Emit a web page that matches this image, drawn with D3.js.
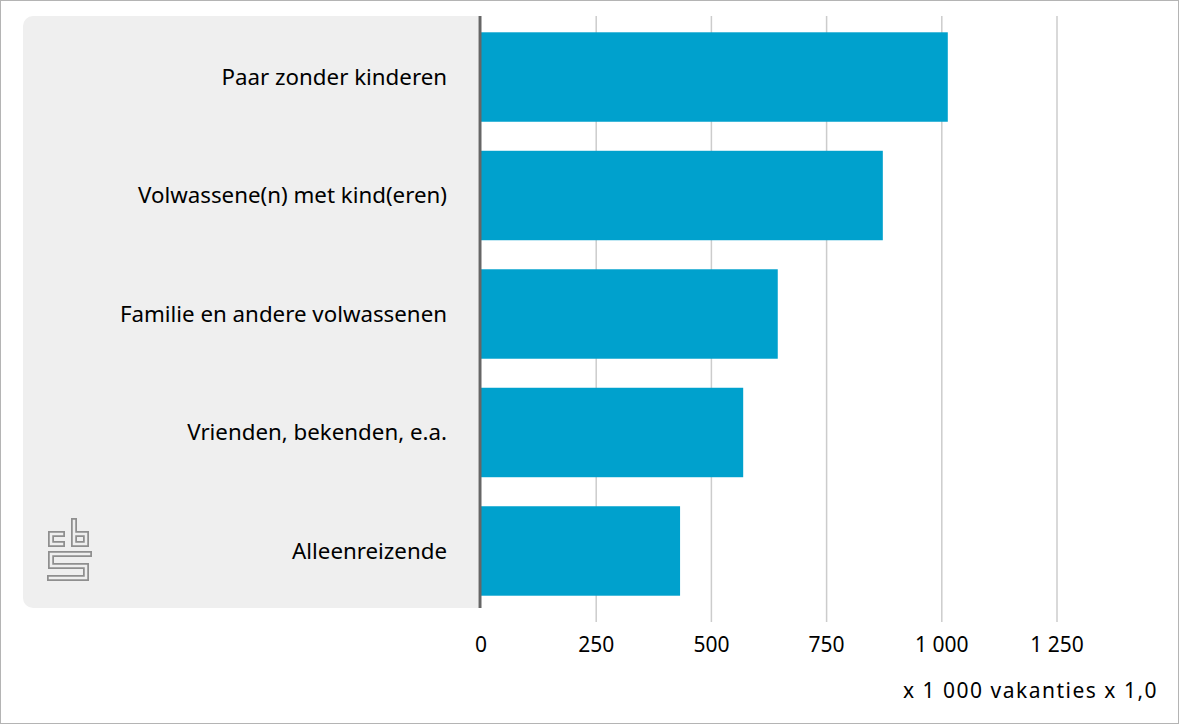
<!DOCTYPE html>
<html><head><meta charset="utf-8">
<script src="https://cdn.jsdelivr.net/npm/d3@7/dist/d3.min.js"></script>
<style>body{margin:0;background:#fff}svg{display:block}</style>
</head><body><svg id="c" width="1179" height="724"></svg>
<script>
const categories = ["Paar zonder kinderen","Volwassene(n) met kind(eren)","Familie en andere volwassenen","Vrienden, bekenden, e.a.","Alleenreizende"];
const values = [1013, 872, 644, 569, 432];
const tickValues = [0, 250, 500, 750, 1000, 1250];
const unitLabel = "x 1 000 vakanties x 1,000";

(function(){
const svg = d3.select("#c");
const W = 1179, H = 724;
const yTop = 16, yBot = 608, x0 = 481;
const font = "'Noto Sans', sans-serif";

svg.append("rect").attr("x",0.5).attr("y",0.5).attr("width",W-1).attr("height",H-1).attr("fill","#fff").attr("stroke","#b4b4b4");
svg.append("rect").attr("x",23).attr("y",yTop).attr("width",480-23+10).attr("height",yBot-yTop).attr("rx",10).attr("fill","#efefef");
const x = d3.scaleLinear().domain([0,1250]).range([x0, x0 + 1250*0.4608]);
const y = d3.scaleBand().domain(categories).range([yTop,612]).paddingInner(0.245).paddingOuter(0.1375);

svg.append("rect").attr("x",478).attr("y",yTop).attr("width",30).attr("height",yBot-yTop).attr("fill","#fff");

// gridlines
svg.append("g").selectAll("line").data(tickValues.filter(d=>d>0)).join("line")
  .attr("x1",d=>x(d)).attr("x2",d=>x(d)).attr("y1",yTop).attr("y2",yBot+14)
  .attr("stroke","#cccccc").attr("stroke-width",1.5);

// bars
svg.append("g").selectAll("rect").data(categories).join("rect")
  .attr("x",x(0)).attr("y",d=>y(d)).attr("width",(d,i)=>x(values[i])-x(0)).attr("height",y.bandwidth())
  .attr("fill","#00a1cd");

// axis line
svg.append("line").attr("x1",x0-1).attr("x2",x0-1).attr("y1",yTop).attr("y2",yBot).attr("stroke","#666").attr("stroke-width",3);

// category labels
svg.append("g").selectAll("text").data(categories).join("text")
  .attr("x",447).attr("y",d=>y(d)+y.bandwidth()/2).attr("dy","0.35em")
  .attr("text-anchor","end").attr("font-family",font).attr("font-size",22.3).attr("fill","#000")
  .text(d=>d);

// tick labels
const fmt = v => d3.format(",")(v).replace(/,/g," ");
svg.append("g").selectAll("text").data(tickValues).join("text")
  .attr("x",d=>x(d)).attr("y",645).attr("dy","0.35em").attr("text-anchor","middle")
  .attr("font-family",font).attr("font-size",21).attr("fill","#000").text(fmt);

// unit label clipped
svg.append("clipPath").attr("id","clip").append("rect").attr("x",0).attr("y",0).attr("width",1157).attr("height",H);
svg.append("text").attr("x",903).attr("y",691).attr("dy","0.35em").attr("clip-path","url(#clip)")
  .attr("font-family",font).attr("font-size",21).attr("letter-spacing",1.5).attr("fill","#000").text(unitLabel);

// cbs logo
const logo = svg.append("g");
const paths = [
  [[62,534],[51,534],[51,544],[62,544]],
  [[74,521],[74,544],[86,544],[86,534],[74,534]],
  [[89,554],[51,554],[51,566],[86,566],[86,578],[50,578]]
];
const line = d3.line();
paths.forEach(p=>{
  logo.append("path").attr("d",line(p)).attr("fill","none").attr("stroke","#8f8f8f").attr("stroke-width",6).attr("stroke-linejoin","miter").attr("stroke-linecap","square");
});
paths.forEach(p=>{
  logo.append("path").attr("d",line(p)).attr("fill","none").attr("stroke","#efefef").attr("stroke-width",2.5).attr("stroke-linejoin","miter").attr("stroke-linecap","square");
});
})();
</script></body></html>
